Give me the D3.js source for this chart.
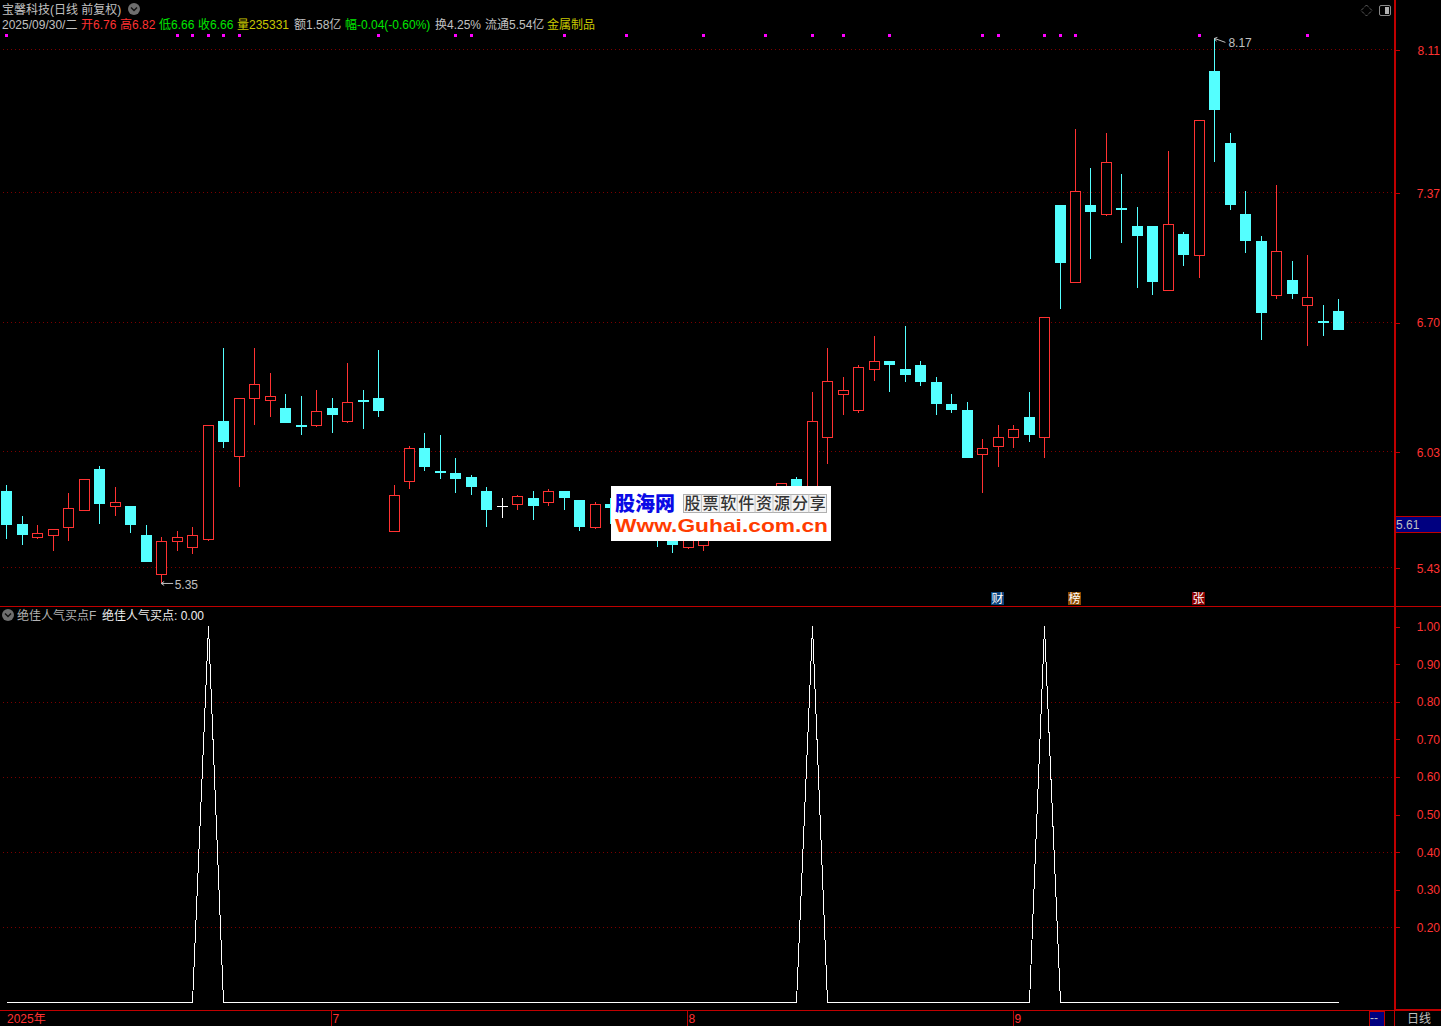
<!DOCTYPE html>
<html><head><meta charset="utf-8">
<script src="https://cdn.jsdelivr.net/npm/d3@7"></script>
<style>
html,body{margin:0;padding:0;background:#000;overflow:hidden}
svg{display:block}
text{font-family:"Liberation Sans","Noto Sans CJK SC",sans-serif;font-size:12px}
.cjk{font-family:"Noto Sans CJK SC",sans-serif}
</style></head><body>
<svg id="c" width="1441" height="1026"></svg>
<script>
const opens=[5.83,5.66,5.59,5.60,5.64,5.73,5.94,5.75,5.75,5.60,5.40,5.57,5.54,5.58,6.19,6.01,6.31,6.30,6.26,6.17,6.17,6.26,6.19,6.30,6.31,5.62,5.88,6.05,5.93,5.92,5.90,5.83,5.75,5.76,5.79,5.77,5.83,5.78,5.64,5.76,5.70,5.68,5.68,5.62,5.54,5.55,5.63,5.70,5.72,5.74,5.78,5.89,5.78,6.11,6.33,6.25,6.46,6.50,6.46,6.48,6.39,6.28,6.25,6.02,6.06,6.11,6.21,6.11,7.31,6.91,7.31,7.26,7.29,7.20,7.20,6.87,7.16,7.05,8.00,7.63,7.26,7.12,6.84,6.92,6.79,6.71,6.76];
const highs=[5.86,5.70,5.65,5.63,5.82,5.89,5.96,5.85,5.75,5.65,5.59,5.62,5.64,6.17,6.57,6.31,6.57,6.44,6.33,6.32,6.35,6.31,6.49,6.35,6.56,5.86,6.06,6.13,6.12,6.00,5.91,5.85,5.79,5.81,5.83,5.84,5.83,5.78,5.77,5.79,5.74,5.74,5.74,5.66,5.66,5.66,5.72,5.76,5.78,5.80,5.87,5.90,6.34,6.57,6.42,6.48,6.63,6.50,6.68,6.50,6.42,6.33,6.29,6.10,6.17,6.17,6.34,6.73,7.31,7.70,7.50,7.68,7.47,7.30,7.20,7.59,7.17,7.75,8.17,7.68,7.38,7.15,7.41,7.02,7.05,6.79,6.82];
const lows=[5.58,5.55,5.58,5.52,5.57,5.73,5.66,5.70,5.61,5.46,5.35,5.52,5.50,5.57,6.05,5.85,6.17,6.21,6.18,6.12,6.16,6.13,6.18,6.15,6.21,5.62,5.84,5.93,5.89,5.82,5.81,5.64,5.69,5.73,5.68,5.75,5.73,5.62,5.63,5.66,5.62,5.60,5.54,5.51,5.53,5.52,5.60,5.66,5.68,5.70,5.74,5.76,5.74,5.97,6.22,6.23,6.40,6.34,6.39,6.37,6.22,6.23,6.00,5.82,5.95,6.05,6.08,6.00,6.77,6.91,7.03,7.25,7.11,6.88,6.84,6.87,6.99,6.93,7.53,7.28,7.06,6.61,6.82,6.82,6.58,6.63,6.66];
const closes=[5.65,5.60,5.61,5.63,5.74,5.89,5.76,5.77,5.65,5.46,5.57,5.59,5.60,6.17,6.08,6.31,6.38,6.32,6.18,6.16,6.24,6.22,6.29,6.29,6.24,5.81,6.05,5.95,5.92,5.89,5.85,5.73,5.75,5.80,5.75,5.83,5.79,5.64,5.76,5.74,5.72,5.66,5.60,5.55,5.62,5.63,5.70,5.72,5.75,5.78,5.87,5.80,6.19,6.40,6.35,6.47,6.50,6.48,6.43,6.39,6.28,6.25,6.00,6.05,6.11,6.15,6.12,6.73,7.01,7.38,7.27,7.53,7.28,7.15,6.91,7.21,7.05,7.75,7.80,7.31,7.12,6.75,7.07,6.85,6.83,6.70,6.66];
const signalDays=[13,52,67];
const markerDays=[0,11,12,13,14,15,24,29,30,36,40,45,49,52,54,57,63,64,67,68,69,77,84];
const priceTicks=[8.11,7.37,6.70,6.03,5.43];
const signalTicks=[1,0.9,0.8,0.7,0.6,0.5,0.4,0.3,0.2];
const signalGrid=[0.8,0.6,0.4,0.2];
const monthLabels=[{i:21,t:"7"},{i:44,t:"8"},{i:65,t:"9"}];
const eventTags=[{i:64,t:"财",c:"#0a437c"},{i:69,t:"榜",c:"#8c4a00"},{i:77,t:"张",c:"#8a0000"}];
const headerLine1=[{x:2,t:"宝馨科技(日线 前复权)",c:"#c0c0c0"}];
const headerLine2=[
 {x:2,t:"2025/09/30/二",c:"#c0c0c0"},{x:81,t:"开6.76",c:"#ff3232"},{x:120,t:"高6.82",c:"#ff3232"},
 {x:159,t:"低6.66",c:"#00e600"},{x:198,t:"收6.66",c:"#00e600"},{x:237,t:"量235331",c:"#c8c800"},
 {x:294,t:"额1.58亿",c:"#c0c0c0"},{x:345,t:"幅-0.04(-0.60%)",c:"#00e600"},{x:435,t:"换4.25%",c:"#c0c0c0"},
 {x:485,t:"流通5.54亿",c:"#c0c0c0"},{x:547,t:"金属制品",c:"#c8c800"}];

const RED="#ff3232",CYAN="#54ffff",FRAME="#c00000",DOT="#7c0000",GREY="#c0c0c0";
const svg=d3.select("#c");
svg.append("rect").attr("width",1441).attr("height",1026).attr("fill","#000");

const days=d3.range(opens.length);
const x=d3.scaleLinear().domain([0,86]).range([6.3,1338.3]);
const y=d3.scaleLinear().domain([8.11,5.43]).range([50,568]);
const ys=d3.scaleLinear().domain([0,1]).range([1002.5,626.5]);
const px=v=>Math.round(v);

// grid
const g=svg.append("g").attr("shape-rendering","crispEdges");
g.selectAll(".gp").data(priceTicks).join("line").attr("x1",3).attr("x2",1392)
 .attr("y1",d=>px(y(d))-.5).attr("y2",d=>px(y(d))-.5).attr("stroke",DOT).attr("stroke-dasharray","1 3");
g.selectAll(".gs").data(signalGrid).join("line").attr("x1",3).attr("x2",1392)
 .attr("y1",d=>px(ys(d))+.5).attr("y2",d=>px(ys(d))+.5).attr("stroke",DOT).attr("stroke-dasharray","1 3");

// candles
const k=svg.append("g").attr("shape-rendering","crispEdges");
const col=i=>closes[i]>opens[i]?RED:closes[i]<opens[i]?CYAN:"#ffffff";
k.selectAll(".w").data(days).join("line")
 .attr("x1",i=>px(x(i))+.5).attr("x2",i=>px(x(i))+.5)
 .attr("y1",i=>y(highs[i])).attr("y2",i=>y(lows[i])).attr("stroke",col);
k.selectAll(".b").data(days).join("rect")
 .attr("x",i=>{const c=px(x(i));return closes[i]>opens[i]?c-5+.5:c-5})
 .attr("width",i=>closes[i]>opens[i]?10:11)
 .attr("y",i=>{const t=px(y(Math.max(opens[i],closes[i])));return closes[i]>opens[i]?t+.5:t})
 .attr("height",i=>{const h=px(y(Math.min(opens[i],closes[i])))-px(y(Math.max(opens[i],closes[i])));return closes[i]===opens[i]?1:Math.max(h,2)})
 .attr("fill",i=>closes[i]>opens[i]?"#000":col(i))
 .attr("stroke",i=>closes[i]>opens[i]?RED:"none");

// markers
svg.append("g").attr("shape-rendering","crispEdges").selectAll("rect").data(markerDays).join("rect")
 .attr("x",i=>px(x(i))-1).attr("y",34).attr("width",3).attr("height",3).attr("fill","#ff00ff");

// hi/lo annotations
const iLow=d3.minIndex(lows),iHigh=d3.maxIndex(highs);
const note=svg.append("g");
note.append("path").attr("fill","none").attr("stroke",GREY)
 .attr("d",`M${x(iLow)},${y(lows[iLow])}h12M${x(iLow)+3},${y(lows[iLow])-2}l-3,2l3,2`);
note.append("text").attr("x",x(iLow)+13.5).attr("y",y(lows[iLow])+5.5).attr("fill",GREY).text(d3.format(".2f")(lows[iLow]));
note.append("path").attr("fill","none").attr("stroke",GREY)
 .attr("d",`M${x(iHigh)},${y(highs[iHigh])}l11,4M${x(iHigh)+3},${y(highs[iHigh])-1}l-3,1l2,3`);
note.append("text").attr("x",x(iHigh)+14).attr("y",y(highs[iHigh])+9).attr("fill",GREY).text(d3.format(".2f")(highs[iHigh]));

// signal line
const signal=days.map(i=>signalDays.includes(i)?1:0);
svg.append("path").datum(signal).attr("fill","none").attr("stroke","#fff").attr("stroke-width",1).attr("shape-rendering","crispEdges")
 .attr("d",d3.line().x((d,i)=>px(x(i))+.5).y(d=>ys(d)));

// frame
const f=svg.append("g").attr("shape-rendering","crispEdges").attr("stroke",FRAME);
f.append("line").attr("x1",1394.5).attr("x2",1394.5).attr("y1",0).attr("y2",1026);
f.append("line").attr("x1",1395.5).attr("x2",1395.5).attr("y1",0).attr("y2",1010);
f.append("line").attr("x1",0).attr("x2",1441).attr("y1",606.5).attr("y2",606.5);
f.append("line").attr("x1",0).attr("x2",1395).attr("y1",1010.5).attr("y2",1010.5);
f.append("line").attr("x1",1395).attr("x2",1441).attr("y1",1009.5).attr("y2",1009.5);
f.append("line").attr("x1",1395).attr("x2",1441).attr("y1",1010.5).attr("y2",1010.5);

// right axes
const ra=svg.append("g");
function axis(data,scale){
 ra.append("g").attr("shape-rendering","crispEdges").selectAll("line").data(data).join("line")
  .attr("x1",1395).attr("x2",1400).attr("y1",d=>px(scale(d))+.5).attr("y2",d=>px(scale(d))+.5).attr("stroke",FRAME);
 ra.append("g").selectAll("text").data(data).join("text").attr("x",1440).attr("y",d=>scale(d)+4.5)
  .attr("text-anchor","end").attr("fill",RED).text(d=>d.toFixed(2));
}
axis(priceTicks,y);
axis(signalTicks,ys);

// cursor value box
ra.append("rect").attr("x",1396).attr("y",516).attr("width",45).attr("height",16).attr("fill","#000080");
ra.append("g").attr("shape-rendering","crispEdges").attr("stroke",FRAME).call(s=>{
 s.append("line").attr("x1",1395).attr("x2",1441).attr("y1",516.5).attr("y2",516.5);
 s.append("line").attr("x1",1395).attr("x2",1441).attr("y1",532.5).attr("y2",532.5);
});
ra.append("text").attr("x",1396).attr("y",528.5).attr("fill",GREY).text("5.61");

// bottom axis
const b=svg.append("g");
b.append("text").attr("x",7).attr("y",1023).attr("fill",RED).text("2025年");
b.selectAll(".t").data(monthLabels).join("text").attr("x",d=>Math.floor(x(d.i))+1.5).attr("y",1023).attr("fill",RED).text(d=>d.t);
b.append("g").attr("shape-rendering","crispEdges").selectAll("line").data(monthLabels).join("line")
 .attr("x1",d=>Math.floor(x(d.i))+.5).attr("x2",d=>Math.floor(x(d.i))+.5).attr("y1",1011).attr("y2",1026).attr("stroke",FRAME);
b.append("rect").attr("x",1369.5).attr("y",1011.5).attr("width",15).attr("height",15).attr("fill","#000080").attr("stroke",FRAME).attr("shape-rendering","crispEdges");
b.append("text").attr("x",1370).attr("y",1022).attr("fill",GREY).text("--");
b.append("text").attr("x",1407).attr("y",1023).attr("fill",GREY).attr("class","cjk").text("日线");

// event tags
const tags=svg.append("g").selectAll("g").data(eventTags).join("g").attr("transform",d=>`translate(${px(x(d.i))-7},592)`);
tags.append("rect").attr("width",13).attr("height",13).attr("fill",d=>d.c);
tags.append("text").attr("x",6.5).attr("y",11).attr("text-anchor","middle").attr("fill","#fff").attr("class","cjk").text(d=>d.t);

// headers
function chevron(cx,cy){
 svg.append("circle").attr("cx",cx).attr("cy",cy).attr("r",6).attr("fill","#6e6e6e");
 svg.append("path").attr("d",`M${cx-3},${cy-1.5}l3,3l3,-3`).attr("fill","none").attr("stroke","#111").attr("stroke-width",1.4);
}
svg.append("g").selectAll("text").data(headerLine1).join("text").attr("x",d=>d.x).attr("y",14).attr("fill",d=>d.c).text(d=>d.t);
svg.append("g").selectAll("text").data(headerLine2).join("text").attr("x",d=>d.x).attr("y",29).attr("fill",d=>d.c).text(d=>d.t);
chevron(134,9);
chevron(8,615);
svg.append("text").attr("x",17).attr("y",620).attr("fill","#b4b4b4").text("绝佳人气买点F");
svg.append("text").attr("x",102).attr("y",620).attr("fill","#f0f0f0").text("绝佳人气买点: 0.00");

// top-right icons
svg.append("path").attr("d","M1366.5,5l5.5,5.5l-5.5,5.5l-5.5,-5.5z").attr("fill","none").attr("stroke","#8a8a8a").attr("stroke-dasharray","1 1");
svg.append("rect").attr("x",1379.5).attr("y",5.5).attr("width",11).attr("height",10).attr("rx",1.5).attr("fill","none").attr("stroke","#8a8a8a");
svg.append("rect").attr("x",1385).attr("y",7).attr("width",4).attr("height",7).attr("fill","#b0b0b0").attr("shape-rendering","crispEdges");

// watermark banner
const w=svg.append("g").attr("transform","translate(611,486)");
w.append("rect").attr("width",220).attr("height",55).attr("fill","#fff");
w.append("text").attr("x",4).attr("y",25).attr("fill","#0a0ae6").attr("class","cjk")
 .style("font-size","20px").style("font-weight","900").text("股海网");
w.append("rect").attr("x",72.5).attr("y",8.5).attr("width",143).attr("height",18).attr("fill","#f4f4f4").attr("stroke","#b0b0b0").attr("shape-rendering","crispEdges");
const slogan="股票软件资源分享".split("");
w.selectAll(".s").data(slogan).join("text").attr("x",(d,i)=>72.5+17.9*i+9).attr("y",23)
 .attr("text-anchor","middle").attr("fill","#333").attr("class","cjk").style("font-size","16px").style("font-weight","500").text(d=>d);
w.selectAll(".sl").data(d3.range(1,8)).join("line").attr("x1",d=>72.5+17.9*d).attr("x2",d=>72.5+17.9*d).attr("y1",8.5).attr("y2",26.5).attr("stroke","#c4c4c4");
w.append("text").attr("x",4).attr("y",46).attr("fill","#ff3c00").attr("textLength",213).attr("lengthAdjust","spacingAndGlyphs")
 .style("font-family","'Liberation Sans'").style("font-size","19px").style("font-weight","700").text("Www.Guhai.com.cn");
</script>
</body></html>
